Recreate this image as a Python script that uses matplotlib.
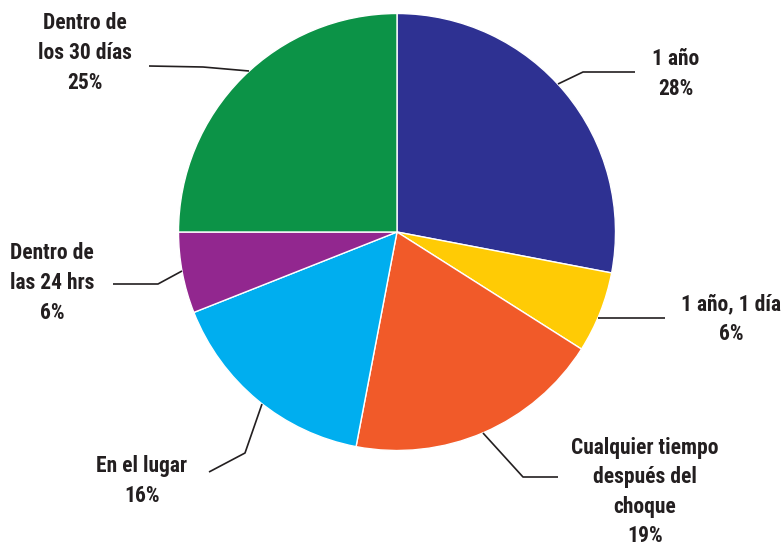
import matplotlib
matplotlib.use("Agg")
import matplotlib.pyplot as plt
from matplotlib import font_manager

categories = ["1 año", "1 año, 1 día", "Cualquier tiempo\ndespués del\nchoque",
              "En el lugar", "Dentro de\nlas 24 hrs", "Dentro de\nlos 30 días"]
shares = [28, 6, 19, 16, 6, 25]
colors = ["#2E3192", "#FFCB05", "#F15A29", "#00AEEF", "#92278F", "#0C9347"]

# label placement (pixel space) and leader-line paths
label_pos = [(676, 74), (731, 319), (645, 492), (142, 481), (52, 283), (85, 53)]
leaders = [
    [(558, 84), (583, 72), (635, 72)],
    [(598, 318), (665, 318)],
    [(483, 433), (523, 477), (558, 477)],
    [(262, 404), (245, 453), (209, 472)],
    [(182, 271), (158, 284), (113, 284)],
    [(249, 71), (203, 67), (149, 66)],
]

# pick the narrowest bold sans available
names = {(f.name, f.stretch) for f in font_manager.fontManager.ttflist}
family, stretch, size = "DejaVu Sans", "normal", 12.5
for cand, st, sz in [("Liberation Sans Narrow", "condensed", 15.5),
                     ("Roboto Condensed", "condensed", 15.5),
                     ("DejaVu Sans", "condensed", 13.5)]:
    if any(n == cand and (s in ("condensed", "semi-condensed") or st == "condensed" and "Narrow" in n
                          or "Condensed" in n) for n, s in names):
        family, stretch, size = cand, st, sz
        break

plt.rcParams['font.family'] = [family, 'DejaVu Sans']

fig = plt.figure(figsize=(7.84, 5.42), dpi=100)
ax = fig.add_axes([0, 0, 1, 1])

ax.pie(shares, colors=colors, startangle=-90, counterclock=True,
       center=(397, 232), radius=218.5, frame=True,
       wedgeprops=dict(edgecolor="white", linewidth=1.0))
ax.set_xlim(0, 784)
ax.set_ylim(542, 0)
ax.set_aspect('equal')
ax.axis('off')

for cat, val, (x, y), path in zip(categories, shares, label_pos, leaders):
    xs, ys = zip(*path)
    ax.plot(xs, ys, color="#231F20", lw=1.2, solid_capstyle='butt')
    ax.text(x, y, f"{cat}\n{val}%", ha="center", va="center",
            fontsize=size, fontweight="bold", fontstretch=stretch,
            color="#231F20", linespacing=1.45)

fig.savefig("out.png", dpi=100)
